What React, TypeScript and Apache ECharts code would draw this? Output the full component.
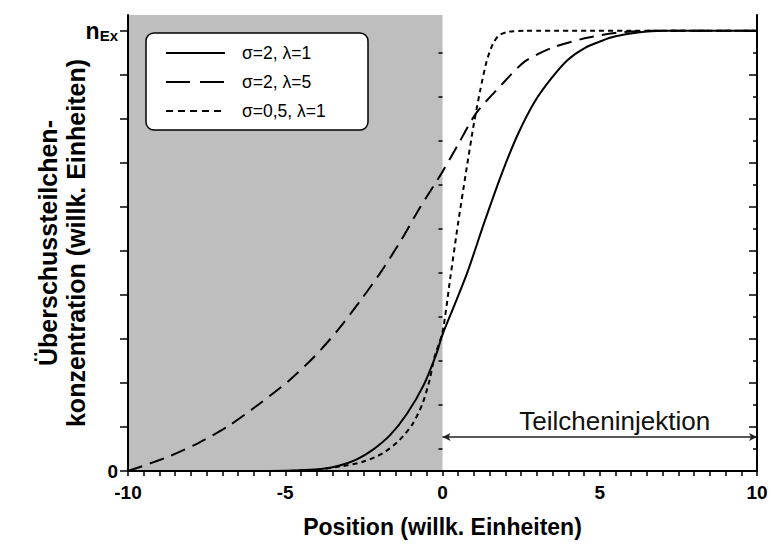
import React, { useEffect, useRef } from "react";
import * as echarts from "echarts";

// Reference curves: [position, normalised concentration]
const curveSigma2Lambda1: [number, number][] = [
  [-10, 0], [-7, 0], [-5.5, 0.0], [-4.4, 0.002], [-3.8, 0.005], [-3.3, 0.012],
  [-2.74, 0.026], [-2.22, 0.048], [-1.66, 0.082], [-1.13, 0.13], [-0.6, 0.195],
  [-0.2, 0.265], [0, 0.31], [0.38, 0.377], [0.8, 0.453], [1.34, 0.567],
  [1.87, 0.673], [2.39, 0.764], [2.93, 0.839], [3.46, 0.892], [3.98, 0.934],
  [4.52, 0.961], [5.05, 0.977], [5.47, 0.987], [6.2, 0.996], [7, 1.0], [10, 1.0],
];
const curveSigma2Lambda5: [number, number][] = [
  [-10, 0], [-8.84, 0.029], [-7.78, 0.063], [-6.83, 0.101], [-5.87, 0.15],
  [-4.92, 0.203], [-4.07, 0.26], [-3.33, 0.32], [-2.59, 0.389], [-1.95, 0.453],
  [-1.31, 0.525], [-0.73, 0.597], [0, 0.68], [0.49, 0.741], [1.07, 0.813],
  [1.87, 0.877], [2.61, 0.93], [3.46, 0.961], [4.52, 0.983], [5.47, 0.995],
  [6.5, 1.0], [10, 1.0],
];
const curveSigma05Lambda1: [number, number][] = [
  [-10, 0], [-5, 0], [-4, 0.003], [-3.27, 0.01], [-2.53, 0.021], [-1.9, 0.04],
  [-1.37, 0.07], [-0.94, 0.108], [-0.63, 0.154], [-0.41, 0.207], [-0.25, 0.26],
  [0, 0.315], [0.25, 0.44], [0.5, 0.565], [0.75, 0.68], [1.0, 0.79],
  [1.2, 0.865], [1.4, 0.93], [1.6, 0.97], [1.8, 0.99], [2.1, 0.998], [2.6, 1.0],
  [10, 1.0],
];

const legendLabels = ["σ=2, λ=1", "σ=2, λ=5", "σ=0,5, λ=1"];
const xLabelValues = [-10, -5, 0, 5, 10];
const xTickValues = Array.from({ length: 41 }, (_, i) => -10 + i * 0.5);
const yMajorTicks = Array.from({ length: 11 }, (_, i) => +(i * 0.1).toFixed(2));
const yMinorTicks = Array.from({ length: 10 }, (_, i) => +(0.05 + i * 0.1).toFixed(2));
const yLabelValues = [0, 1];
const injectionRange = [0, 10];
const injectionLevel = 0.077;
const shadedRange = [-10, 0];

const Y_MAX = 1.036;
const FONT = '"Liberation Sans", Arial, sans-serif';

export default function App() {
  const ref = useRef<HTMLDivElement>(null);
  useEffect(() => {
    if (!ref.current) return;
    const chart = echarts.init(ref.current, null, { renderer: "svg" });
    const axisLine = { show: true, onZero: false, lineStyle: { color: "#000", width: 2 } };
    const yBase = { type: "value", min: 0, max: Y_MAX, splitLine: { show: false }, z: 10 };
    const lineBase = {
      type: "line",
      showSymbol: false,
      symbol: "none",
      smooth: 0.25,
      z: 3,
    };
    chart.setOption({
      animation: false,
      backgroundColor: "#fff",
      grid: { left: 128, right: 14, top: 15, bottom: 79, outerBoundsMode: "none", containLabel: false },
      xAxis: {
        type: "value",
        min: -10,
        max: 10,
        z: 10,
        axisLine,
        splitLine: { show: false },
        axisTick: { show: true, customValues: xTickValues, length: 5, lineStyle: { color: "#000", width: 1.5 } },
        axisLabel: {
          customValues: xLabelValues,
          margin: 12,
          fontFamily: FONT,
          fontWeight: "bold",
          fontSize: 19,
          color: "#000",
        },
        name: "Position (willk. Einheiten)",
        nameLocation: "middle",
        nameGap: 44,
        nameMoveOverlap: false,
        nameTextStyle: { fontFamily: FONT, fontWeight: "bold", fontSize: 23, color: "#000" },
      },
      yAxis: [
        {
          ...yBase,
          position: "left",
          axisLine,
          axisTick: { show: true, customValues: yMajorTicks, length: 8, lineStyle: { color: "#000", width: 1.5 } },
          axisLabel: {
            customValues: yLabelValues,
            margin: 10,
            color: "#000",
            fontFamily: FONT,
            fontWeight: "bold",
            fontSize: 19,
            formatter: (v: number) => (v === 1 ? "{n|n}{s|Ex}" : v === 0 ? "0" : ""),
            rich: {
              n: { fontFamily: FONT, fontWeight: "bold", fontSize: 23, color: "#000" },
              s: { fontFamily: FONT, fontWeight: "bold", fontSize: 15, color: "#000", padding: [10, 0, 0, 0] },
            },
          },
          name: "Überschussteilchen-\nkonzentration (willk. Einheiten)",
          nameLocation: "middle",
          nameRotate: 90,
          nameGap: 38,
          nameMoveOverlap: false,
          nameTextStyle: { fontFamily: FONT, fontWeight: "bold", fontSize: 25, lineHeight: 28, color: "#000" },
        },
        {
          ...yBase,
          position: "left",
          axisLine: { show: false },
          axisTick: { show: true, customValues: yMinorTicks, length: 4, lineStyle: { color: "#000", width: 1.5 } },
          axisLabel: { show: false },
        },
        {
          ...yBase,
          position: "right",
          axisLine,
          axisTick: { show: true, inside: true, customValues: yMajorTicks, length: 8, lineStyle: { color: "#000", width: 1.5 } },
          axisLabel: { show: false },
        },
        {
          ...yBase,
          position: "right",
          axisLine: { show: false },
          axisTick: { show: true, inside: true, customValues: yMinorTicks, length: 4, lineStyle: { color: "#000", width: 1.5 } },
          axisLabel: { show: false },
        },
      ],
      series: [
        {
          ...lineBase,
          name: legendLabels[0],
          data: curveSigma2Lambda1,
          lineStyle: { color: "#000", width: 2 },
          markArea: {
            silent: true,
            itemStyle: { color: "#bebebe" },
            data: [[{ xAxis: shadedRange[0], yAxis: 0 }, { xAxis: shadedRange[1], yAxis: Y_MAX }]],
          },
          markLine: {
            silent: true,
            symbol: ["arrow", "arrow"],
            symbolSize: [6, 8],
            lineStyle: { color: "#222", width: 1.5, type: "solid" },
            label: {
              show: true,
              position: "insideMiddleTop",
              formatter: "Teilcheninjektion",
              distance: 3,
              padding: [0, 0, 0, 30],
              fontFamily: FONT,
              fontSize: 26,
              color: "#111",
            },
            data: [[
              { coord: [injectionRange[0], injectionLevel] },
              { coord: [injectionRange[1], injectionLevel] },
            ]],
          },
        },
        {
          ...lineBase,
          name: legendLabels[1],
          data: curveSigma2Lambda5,
          lineStyle: { color: "#000", width: 2, type: [15, 8] },
        },
        {
          ...lineBase,
          name: legendLabels[2],
          data: curveSigma05Lambda1,
          lineStyle: { color: "#000", width: 2, type: [5, 4] },
        },
      ],
      graphic: [
        {
          type: "rect",
          z: 20,
          shape: { x: 146, y: 33, width: 222, height: 97, r: 8 },
          style: { fill: "#fff", stroke: "#000", lineWidth: 1.5 },
        },
        ...[[], [24, 10], [7, 5]].map((dash, i) => ({
          type: "line",
          z: 21,
          shape: { x1: 166, y1: 53 + i * 29, x2: 225, y2: 53 + i * 29 },
          style: { stroke: "#000", lineWidth: 2, lineDash: dash.length ? dash : null },
        })),
        ...legendLabels.map((t, i) => ({
          type: "text",
          z: 21,
          x: 242,
          y: 53 + i * 29,
          style: { text: t, fontFamily: FONT, fontSize: 17.5, fill: "#000", verticalAlign: "middle" },
        })),
      ],
    });
    return () => chart.dispose();
  }, []);
  return <div ref={ref} style={{ position: "fixed", left: 0, top: 0, width: 771, height: 550 }} />;
}
